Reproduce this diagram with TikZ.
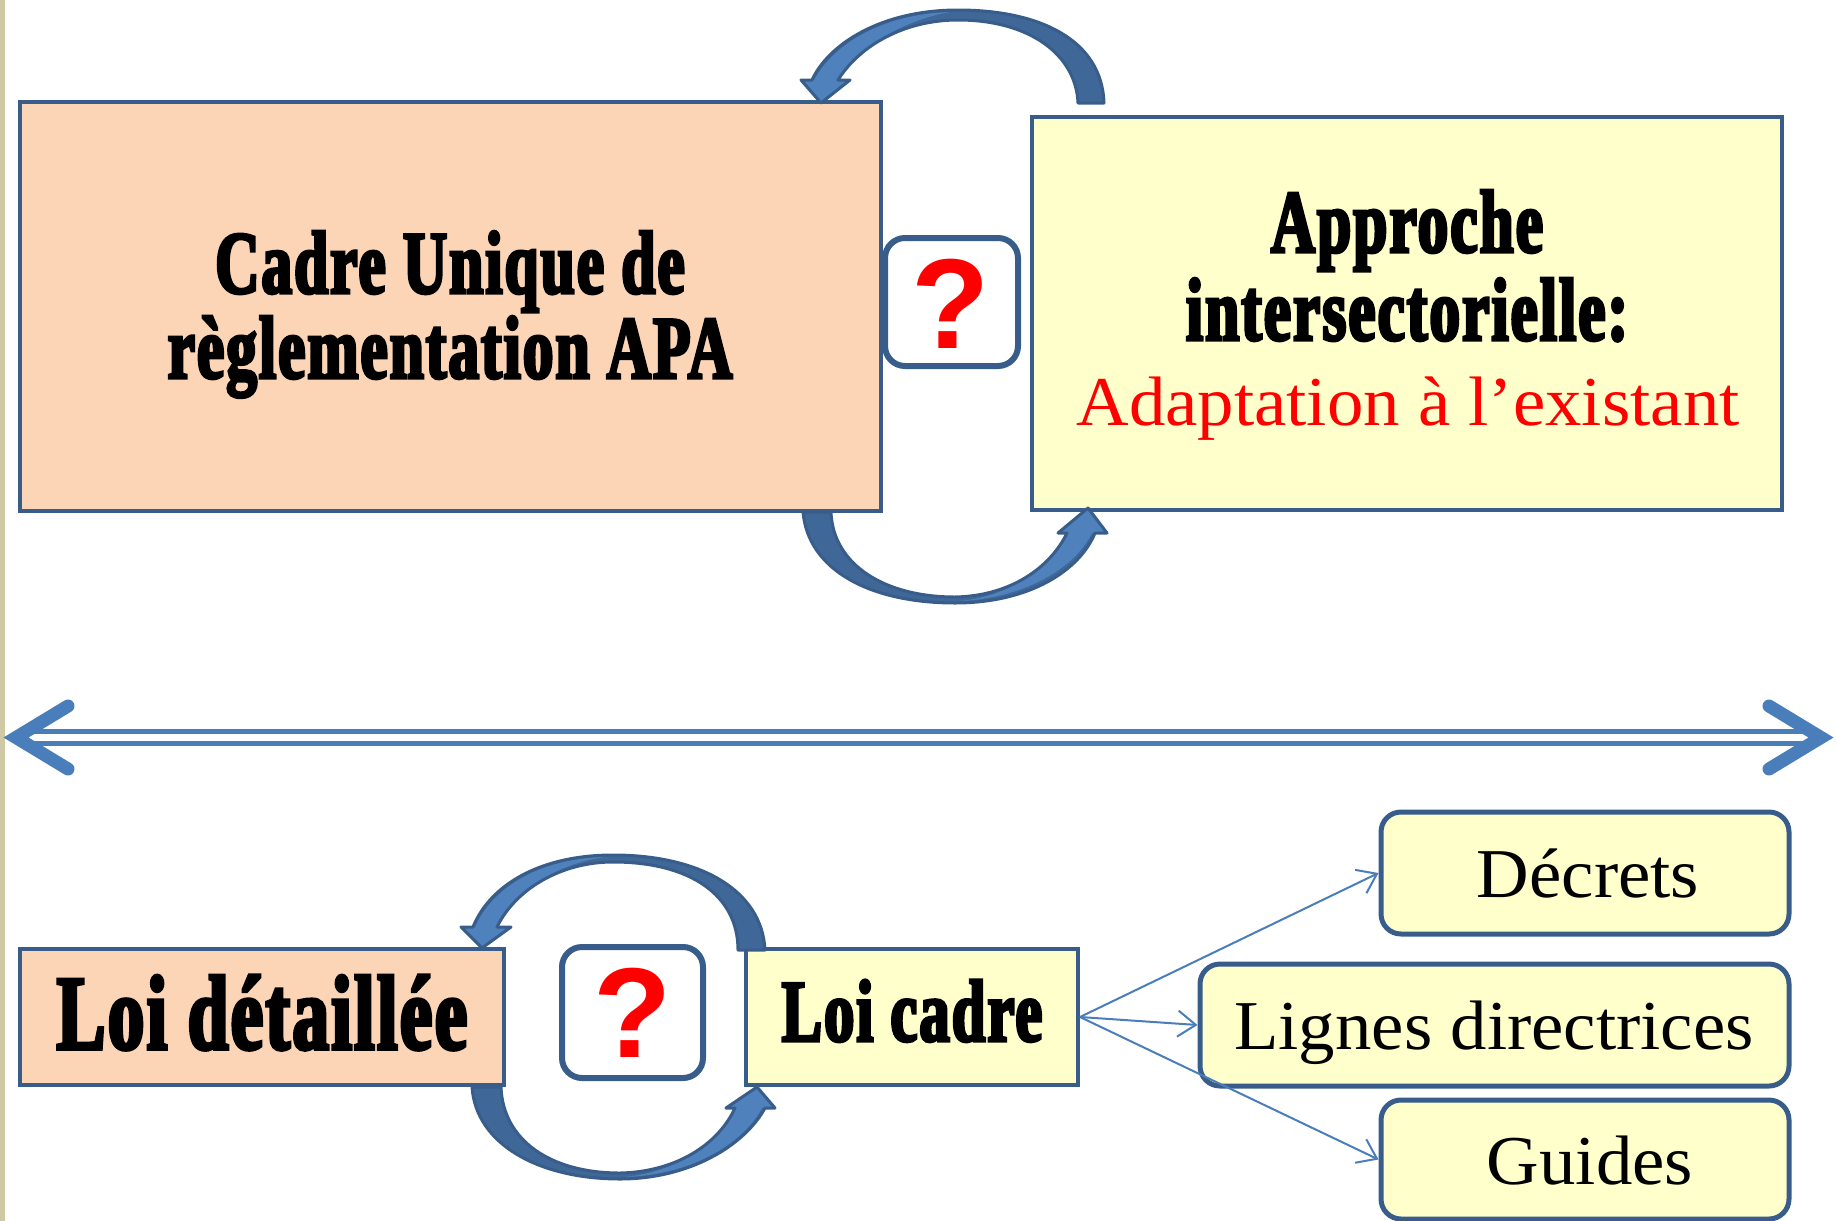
\documentclass[tikz,border=0pt]{standalone}
\usepackage{fontspec}
\usetikzlibrary{arrows.meta,fit}
\newfontfamily\heavy{Liberation Serif Bold}[FakeStretch=0.685,FakeBold=3.5,LetterSpace=2.5]
\newfontfamily\gara{Liberation Serif}[FakeStretch=1.04]
\newfontfamily\qfont{Liberation Sans Bold}
\definecolor{bord}{HTML}{385D8A}
\definecolor{peach}{HTML}{FBD5B5}
\definecolor{lyel}{HTML}{FFFFCC}
\definecolor{alight}{HTML}{4F81BD}
\definecolor{adark}{HTML}{3F6798}
\definecolor{conn}{HTML}{4A7EBB}
\definecolor{strip}{HTML}{CFC9A6}
\begin{document}
\begin{tikzpicture}[x=0.5pt,y=-0.5pt,
  sqbox/.style={draw=bord,line width=2pt,inner sep=0pt},
  rbox/.style={draw=bord,line width=2.5pt,rounded corners=10pt,inner sep=0pt,fill=lyel},
  qbox/.style={draw=bord,line width=3pt,rounded corners=10pt,inner sep=0pt,fill=white},
  txt/.style={anchor=base,inner sep=0pt,text=black},
  qmark/.style={anchor=base,inner sep=0pt,text=red,font=\qfont\fontsize{64}{64}\selectfont},
  bandfill/.style={fill=adark},
  bandlight/.style={fill=alight},
  bandline/.style={draw=bord,line width=1.5pt,line join=round},
  connector/.style={draw=conn,line width=1pt,-{Straight Barb[length=9pt,width=13pt]}},
  dbl/.style={draw=conn,line width=2.5pt},
  chev/.style={draw=conn,line width=6.5pt,line join=miter,line cap=round}
]
\useasboundingbox (0,0) rectangle (1837,1221);
\fill[strip] (0,0) rectangle (5,1221);

% ---------- top section boxes ----------
\node[sqbox,fill=peach,fit={(20,102)(881,511)}] (cadre) {};
\node[sqbox,fill=lyel,fit={(1032,117)(1782,510)}] (approche) {};
\node[qbox,fit={(885,238)(1018,366)}] (q1) {};
\node[qmark] (q1t) at (951,348) {?};

\node[txt,font=\heavy\fontsize{44.5}{44.5}\selectfont] (c1) at (450,293) {Cadre Unique de};
\node[txt,font=\heavy\fontsize{44.5}{44.5}\selectfont] (c2) at (450,378) {règlementation APA};

\node[txt,font=\heavy\fontsize{44.5}{44.5}\selectfont] (a1) at (1407,252) {Approche};
\node[txt,font=\heavy\fontsize{44.5}{44.5}\selectfont] (a2) at (1407,340) {intersectorielle:};
\node[txt,font=\gara\fontsize{35}{35}\selectfont,text=red] (a3) at (1408,425) {Adaptation à l’existant};

% ---------- top curved arrow (right box -> left box) ----------
\fill[bandfill] (1104,103) .. controls (1102,40) and (1040,10) .. (958,10)
  .. controls (880,10) and (828,45) .. (812,80) -- (801,80) -- (821,103) -- (850,80) -- (838,80)
  .. controls (860,45) and (905,20) .. (958,20) .. controls (1030,20) and (1076,55) .. (1078,103) -- cycle;
\fill[bandlight] (814,80) .. controls (835,42) and (885,14) .. (950,12)
  .. controls (905,20) and (860,45) .. (838,80) -- (850,80) -- (821,103) -- (801,80) -- cycle;
\draw[bandline] (1104,103) .. controls (1102,40) and (1040,10) .. (958,10)
  .. controls (880,10) and (828,45) .. (812,80) -- (801,80) -- (821,103) -- (850,80) -- (838,80)
  .. controls (860,45) and (905,20) .. (958,20) .. controls (1030,20) and (1076,55) .. (1078,103) -- cycle;

% ---------- bottom curved arrow (left box -> right box) ----------
\fill[bandfill] (803,512) .. controls (808,570) and (870,603) .. (955,603)
  .. controls (1030,603) and (1080,570) .. (1095,533) -- (1107,533) -- (1088,508) -- (1058,533) -- (1067,533)
  .. controls (1050,568) and (1010,596) .. (955,597) .. controls (885,597) and (833,565) .. (831,512) -- cycle;
\fill[bandlight] (960,601) .. controls (1025,598) and (1075,568) .. (1092,533) -- (1107,533) -- (1088,508) -- (1058,533) -- (1067,533)
  .. controls (1050,568) and (1010,596) .. (960,601) -- cycle;
\draw[bandline] (803,512) .. controls (808,570) and (870,603) .. (955,603)
  .. controls (1030,603) and (1080,570) .. (1095,533) -- (1107,533) -- (1088,508) -- (1058,533) -- (1067,533)
  .. controls (1050,568) and (1010,596) .. (955,597) .. controls (885,597) and (833,565) .. (831,512) -- cycle;

% ---------- double headed arrow ----------
\coordinate (dl) at (16,737.5);
\coordinate (dr) at (1821,737.5);
\draw[dbl] (26,731.5) -- (1811,731.5);
\draw[dbl] (26,743.5) -- (1811,743.5);
\draw[chev] (68,706) -- (dl) -- (68,769);
\draw[chev] (1769,706) -- (dr) -- (1769,769);

% ---------- bottom section boxes ----------
\node[sqbox,fill=peach,fit={(20,949)(504,1085)}] (ldet) {};
\node[sqbox,fill=lyel,fit={(746,949)(1078,1085)}] (lcadre) {};
\node[qbox,fit={(562,947)(703,1078)}] (q2) {};
\node[qmark] (q2t) at (633,1057) {?};

\node[txt,font=\heavy\fontsize{53}{53}\selectfont] (ldt) at (262,1049) {Loi détaillée};
\node[txt,font=\heavy\fontsize{44}{44}\selectfont] (lct) at (912,1041) {Loi cadre};

% ---------- bottom section curved arrows ----------
\fill[bandfill] (765,950) .. controls (762,890) and (700,855) .. (613,855)
  .. controls (540,855) and (490,885) .. (473,927) -- (461,927) -- (482,948) -- (511,927) -- (497,927)
  .. controls (515,890) and (560,862) .. (613,862) .. controls (690,862) and (738,895) .. (738,950) -- cycle;
\fill[bandlight] (475,927) .. controls (492,888) and (540,858) .. (605,857)
  .. controls (555,864) and (515,892) .. (497,927) -- (511,927) -- (482,948) -- (461,927) -- cycle;
\draw[bandline] (765,950) .. controls (762,890) and (700,855) .. (613,855)
  .. controls (540,855) and (490,885) .. (473,927) -- (461,927) -- (482,948) -- (511,927) -- (497,927)
  .. controls (515,890) and (560,862) .. (613,862) .. controls (690,862) and (738,895) .. (738,950) -- cycle;

\fill[bandfill] (472,1087) .. controls (476,1145) and (540,1179) .. (620,1179)
  .. controls (690,1179) and (745,1145) .. (765,1108) -- (775,1108) -- (757,1087) -- (726,1108) -- (735,1108)
  .. controls (718,1145) and (675,1172) .. (620,1173) .. controls (550,1173) and (503,1140) .. (501,1087) -- cycle;
\fill[bandlight] (625,1177) .. controls (690,1175) and (742,1145) .. (762,1108) -- (775,1108) -- (757,1087) -- (726,1108) -- (735,1108)
  .. controls (718,1145) and (675,1172) .. (625,1177) -- cycle;
\draw[bandline] (472,1087) .. controls (476,1145) and (540,1179) .. (620,1179)
  .. controls (690,1179) and (745,1145) .. (765,1108) -- (775,1108) -- (757,1087) -- (726,1108) -- (735,1108)
  .. controls (718,1145) and (675,1172) .. (620,1173) .. controls (550,1173) and (503,1140) .. (501,1087) -- cycle;

% ---------- right boxes ----------
\node[rbox,fit={(1381,812)(1789,934)}] (decrets) {};
\node[rbox,fit={(1200,964)(1789,1086)}] (lignes) {};
\node[rbox,fit={(1381,1100)(1789,1219)}] (guides) {};
\node[txt,font=\gara\fontsize{35}{35}\selectfont] (dt) at (1588,897) {Décrets};
\node[txt,font=\gara\fontsize{35}{35}\selectfont] (lt) at (1494,1049) {Lignes directrices};
\node[txt,font=\gara\fontsize{35}{35}\selectfont] (gt) at (1590,1184) {Guides};

\draw[connector] (lcadre.east) -- (decrets.west);
\draw[connector] (lcadre.east) -- (lignes.west);
\draw[connector] (lcadre.east) -- (guides.west);
\end{tikzpicture}
\end{document}
